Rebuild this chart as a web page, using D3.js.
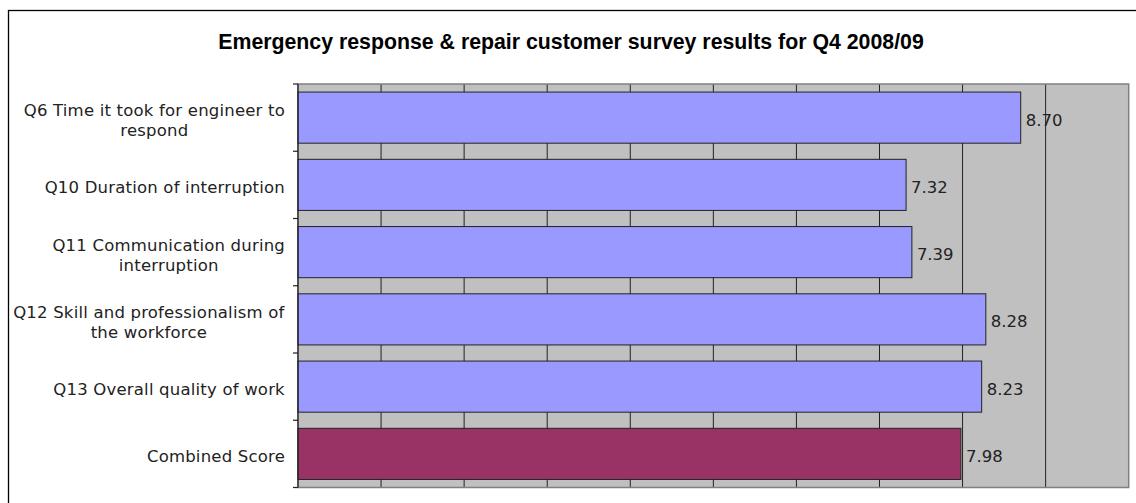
<!DOCTYPE html>
<html>
<head>
<meta charset="utf-8">
<title>Emergency response survey</title>
<script src="https://cdn.jsdelivr.net/npm/d3@7"></script>
<style>
body { margin: 0; background: #fff; }
</style>
</head>
<body>
<svg id="chart" width="1136" height="503"></svg>
<script>
var categories = [
  ["Q6 Time it took for engineer to", "respond"],
  ["Q10 Duration of interruption"],
  ["Q11 Communication during", "interruption"],
  ["Q12 Skill and professionalism of", "the workforce"],
  ["Q13 Overall quality of work"],
  ["Combined Score"]
];
var scores = [8.70, 7.32, 7.39, 8.28, 8.23, 7.98];
var barColors = ["#9999ff", "#9999ff", "#9999ff", "#9999ff", "#9999ff", "#993366"];
var gridTicks = [0, 1, 2, 3, 4, 5, 6, 7, 8, 9, 10];

var svg = d3.select("#chart");

// outer chart frame, runs off the right and bottom like the original
svg.append("rect")
  .attr("x", 8.5).attr("y", 10.5)
  .attr("width", 1140).attr("height", 500)
  .attr("fill", "#fff").attr("stroke", "#000").attr("stroke-width", 1.3);

svg.append("text")
  .attr("x", 571).attr("y", 49)
  .attr("text-anchor", "middle")
  .attr("font-family", "Liberation Sans, Arial, sans-serif")
  .attr("font-weight", "bold")
  .attr("font-size", 21.3)
  .attr("fill", "#000")
  .text("Emergency response & repair customer survey results for Q4 2008/09");

var pLeft = 298, pRight = 1128.7, pTop = 84, pBottom = 487.5;

var x = d3.scaleLinear().domain([0, 10]).range([pLeft, pRight]);
var y = d3.scaleBand().domain(d3.range(scores.length))
  .range([pTop, pBottom]).paddingInner(0.24).paddingOuter(0.12);

// plot area
svg.append("rect")
  .attr("x", pLeft).attr("y", pTop)
  .attr("width", pRight - pLeft).attr("height", pBottom - pTop)
  .attr("fill", "#c0c0c0");

svg.append("g").selectAll("line")
  .data(gridTicks.slice(1, -1))
  .enter().append("line")
  .attr("x1", function(d) { return x(d); })
  .attr("x2", function(d) { return x(d); })
  .attr("y1", pTop).attr("y2", pBottom)
  .attr("stroke", "#222").attr("stroke-width", 1);

svg.append("rect")
  .attr("x", pLeft).attr("y", pTop)
  .attr("width", pRight - pLeft).attr("height", pBottom - pTop)
  .attr("fill", "none").attr("stroke", "#808080").attr("stroke-width", 1.5);

// bars
svg.append("g").selectAll("rect")
  .data(scores)
  .enter().append("rect")
  .attr("x", x(0))
  .attr("y", function(d, i) { return y(i); })
  .attr("width", function(d) { return x(d) - x(0); })
  .attr("height", y.bandwidth())
  .attr("fill", function(d, i) { return barColors[i]; })
  .attr("stroke", "#222").attr("stroke-width", 1);

// value labels
svg.append("g").selectAll("text")
  .data(scores)
  .enter().append("text")
  .attr("x", function(d) { return x(d) + 5; })
  .attr("y", function(d, i) { return y(i) + y.bandwidth() / 2 + 8; })
  .attr("font-family", "DejaVu Sans, Verdana, sans-serif")
  .attr("font-size", 16.5)
  .attr("fill", "#222")
  .text(function(d) { return d.toFixed(2); });

// category axis
var tickYs = d3.range(scores.length + 1).map(function(i) { return pTop + i * (pBottom - pTop) / scores.length; });
svg.append("line")
  .attr("x1", pLeft).attr("x2", pLeft).attr("y1", pTop).attr("y2", pBottom)
  .attr("stroke", "#222").attr("stroke-width", 1.2);
svg.append("g").selectAll("line")
  .data(tickYs)
  .enter().append("line")
  .attr("x1", pLeft - 5).attr("x2", pLeft)
  .attr("y1", function(d) { return d; }).attr("y2", function(d) { return d; })
  .attr("stroke", "#222").attr("stroke-width", 1.2);

var labels = svg.append("g")
  .attr("font-family", "DejaVu Sans, Verdana, sans-serif")
  .attr("font-size", 16.5)
  .attr("letter-spacing", 0.2)
  .attr("fill", "#222");

categories.forEach(function(lines, i) {
  var t = labels.append("text").attr("text-anchor", "middle");
  var lineH = 20;
  var cy = y(i) + y.bandwidth() / 2;
  lines.forEach(function(s, j) {
    t.append("tspan").attr("x", 0)
      .attr("y", cy + 8.5 + (j - (lines.length - 1) / 2) * lineH).text(s);
  });
  var w = t.node().getBBox().width;
  t.selectAll("tspan").attr("x", 285 - w / 2);
});
</script>
</body>
</html>
